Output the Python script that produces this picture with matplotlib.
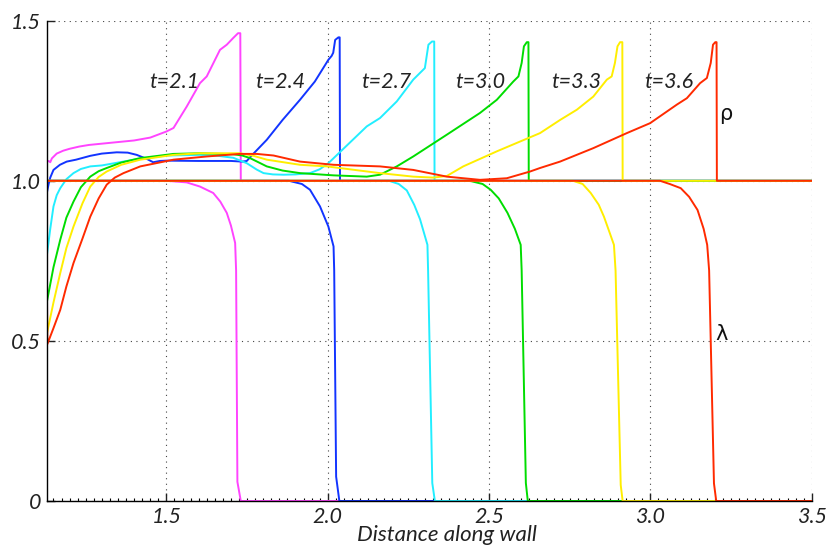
import numpy as np
import matplotlib
matplotlib.use("Agg")
import matplotlib.pyplot as plt
from matplotlib.ticker import MultipleLocator

# times and colours of the six snapshots
times = ["t=2.1", "t=2.4", "t=2.7", "t=3.0", "t=3.3", "t=3.6"]
colors = ["#ff44ff", "#1234ff", "#22eeff", "#00dd00", "#ffee00", "#ff2a00"]

# density rho along the wall
rho_x_21 = [1.129, 1.135, 1.14, 1.145, 1.16, 1.18, 1.20, 1.23, 1.26, 1.30, 1.40, 1.45, 1.50, 1.522, 1.563,
            1.604, 1.625, 1.666, 1.687, 1.707, 1.722, 1.729, 1.7305, 3.5]
rho_y_21 = [1.060, 1.062, 1.058, 1.070, 1.085, 1.094, 1.100, 1.107, 1.112, 1.116, 1.126, 1.135, 1.154,
            1.165, 1.232, 1.305, 1.326, 1.409, 1.425, 1.446, 1.461, 1.461, 1.0, 1.0]

rho_x_24 = [1.129, 1.135, 1.14, 1.150, 1.17, 1.191, 1.22, 1.264, 1.30, 1.346, 1.38, 1.408, 1.44, 1.459,
            1.48, 1.501, 1.60, 1.70, 1.735, 1.749, 1.77, 1.811, 1.86, 1.914, 1.96, 2.002, 2.012,
            2.017, 2.023, 2.033, 2.037, 2.038, 3.5]
rho_y_24 = [0.96, 0.99, 1.01, 1.034, 1.05, 1.06, 1.066, 1.078, 1.085, 1.089, 1.088, 1.081, 1.068,
            1.058, 1.062, 1.063, 1.062, 1.062, 1.06, 1.062, 1.085, 1.128, 1.19, 1.253, 1.31, 1.378,
            1.39, 1.40, 1.44, 1.448, 1.448, 1.0, 1.0]

rho_x_27 = [1.129, 1.14, 1.150, 1.16, 1.171, 1.19, 1.212, 1.235, 1.264, 1.30, 1.40, 1.501, 1.604, 1.66,
            1.707, 1.749, 1.78, 1.801, 1.83, 1.863, 1.90, 1.945, 1.975, 2.002, 2.121, 2.162, 2.214,
            2.265, 2.291, 2.301, 2.312, 2.323, 2.330, 2.331, 3.5]
rho_y_27 = [0.763, 0.85, 0.92, 0.955, 0.977, 1.005, 1.024, 1.037, 1.045, 1.048, 1.066, 1.079, 1.081,
            1.078, 1.072, 1.055, 1.035, 1.024, 1.02, 1.019, 1.02, 1.024, 1.036, 1.055, 1.17, 1.196,
            1.248, 1.316, 1.342, 1.352, 1.425, 1.435, 1.435, 1.0, 1.0]

rho_x_30 = [1.129, 1.15, 1.171, 1.19, 1.212, 1.235, 1.264, 1.29, 1.315, 1.36, 1.419, 1.522, 1.604, 1.707,
            1.735, 1.759, 1.785, 1.811, 1.86, 1.914, 2.018, 2.121, 2.162, 2.214, 2.265, 2.369, 2.472,
            2.524, 2.575, 2.591, 2.601, 2.608, 2.617, 2.622, 2.623, 3.5]
rho_y_30 = [0.619, 0.73, 0.816, 0.885, 0.935, 0.98, 1.013, 1.03, 1.04, 1.057, 1.071, 1.084, 1.086,
            1.083, 1.079, 1.071, 1.058, 1.045, 1.032, 1.024, 1.017, 1.013, 1.019, 1.045, 1.076,
            1.144, 1.212, 1.253, 1.31, 1.326, 1.368, 1.42, 1.433, 1.433, 1.0, 1.0]

rho_x_33 = [1.129, 1.15, 1.171, 1.19, 1.212, 1.24, 1.264, 1.29, 1.315, 1.36, 1.419, 1.522, 1.604, 1.728,
            1.77, 1.811, 1.914, 1.997, 2.162, 2.265, 2.327, 2.369, 2.420, 2.524, 2.658, 2.720,
            2.772, 2.823, 2.865, 2.880, 2.890, 2.898, 2.906, 2.913, 2.914, 3.5]
rho_y_33 = [0.52, 0.62, 0.712, 0.79, 0.857, 0.93, 0.982, 1.012, 1.029, 1.05, 1.066, 1.081, 1.086, 1.086,
            1.078, 1.066, 1.05, 1.045, 1.024, 1.013, 1.01, 1.015, 1.045, 1.092, 1.149, 1.19,
            1.222, 1.263, 1.316, 1.326, 1.368, 1.42, 1.433, 1.433, 1.0, 1.0]

rho_x_36 = [1.129, 1.131, 1.15, 1.171, 1.19, 1.212, 1.24, 1.264, 1.29, 1.315, 1.34, 1.367, 1.419, 1.522,
            1.625, 1.728, 1.78, 1.832, 1.914, 2.018, 2.162, 2.265, 2.369, 2.472, 2.555, 2.627, 2.658,
            2.720, 2.823, 2.927, 2.999, 3.082, 3.113, 3.154, 3.175, 3.187, 3.194, 3.201, 3.205,
            3.206, 3.5]
rho_y_36 = [0.755, 0.49, 0.54, 0.597, 0.67, 0.743, 0.82, 0.888, 0.945, 0.988, 1.01, 1.024, 1.045,
            1.066, 1.076, 1.084, 1.084, 1.079, 1.06, 1.05, 1.045, 1.034, 1.013, 1.003, 1.008, 1.029,
            1.04, 1.06, 1.102, 1.149, 1.18, 1.238, 1.258, 1.305, 1.321, 1.368, 1.425, 1.433, 1.433,
            1.0, 1.0]

# reaction progress lambda along the wall
lam_x_21 = [1.129, 1.50, 1.563, 1.604, 1.645, 1.667, 1.687, 1.70, 1.713, 1.716, 1.720, 1.7305, 3.5]
lam_y_21 = [1.0, 1.0, 0.995, 0.982, 0.962, 0.935, 0.90, 0.86, 0.806, 0.72, 0.06, 0.0, 0.0]

lam_x_24 = [1.129, 1.88, 1.92, 1.945, 1.976, 2.002, 2.018, 2.020, 2.026, 2.036, 3.5]
lam_y_24 = [1.0, 1.0, 0.99, 0.972, 0.92, 0.857, 0.795, 0.72, 0.076, 0.0, 0.0]

lam_x_27 = [1.129, 2.19, 2.22, 2.245, 2.268, 2.286, 2.309, 2.311, 2.324, 2.332, 3.5]
lam_y_27 = [1.0, 1.0, 0.99, 0.97, 0.925, 0.88, 0.80, 0.72, 0.056, 0.0, 0.0]

lam_x_30 = [1.129, 2.44, 2.48, 2.505, 2.53, 2.557, 2.58, 2.598, 2.601, 2.614, 2.62, 3.5]
lam_y_30 = [1.0, 1.0, 0.99, 0.972, 0.945, 0.9, 0.85, 0.80, 0.72, 0.056, 0.0, 0.0]

lam_x_33 = [1.129, 2.76, 2.79, 2.815, 2.84, 2.856, 2.873, 2.887, 2.892, 2.908, 2.914, 3.5]
lam_y_33 = [1.0, 1.0, 0.99, 0.962, 0.925, 0.888, 0.84, 0.80, 0.72, 0.05, 0.0, 0.0]

lam_x_36 = [1.129, 3.03, 3.06, 3.094, 3.12, 3.146, 3.165, 3.176, 3.182, 3.197, 3.204, 3.5]
lam_y_36 = [1.0, 1.0, 0.99, 0.977, 0.95, 0.909, 0.85, 0.80, 0.72, 0.055, 0.0, 0.0]

rho_x = [rho_x_21, rho_x_24, rho_x_27, rho_x_30, rho_x_33, rho_x_36]
rho_y = [rho_y_21, rho_y_24, rho_y_27, rho_y_30, rho_y_33, rho_y_36]
lam_x = [lam_x_21, lam_x_24, lam_x_27, lam_x_30, lam_x_33, lam_x_36]
lam_y = [lam_y_21, lam_y_24, lam_y_27, lam_y_30, lam_y_33, lam_y_36]

# where the time labels sit
label_x = [1.523, 1.854, 2.182, 2.474, 2.769, 3.058]
label_y = 1.31

xticks = [1.5, 2.0, 2.5, 3.0, 3.5]
xtick_labels = ["1.5", "2.0", "2.5", "3.0", "3.5"]
yticks = [0, 0.5, 1.0, 1.5]
ytick_labels = ["0", "0.5", "1.0", "1.5"]

plt.rcParams["font.family"] = ["Lato", "DejaVu Sans"]
plt.rcParams["font.style"] = "italic"

fig = plt.figure(figsize=(8.34, 5.48), dpi=100)
ax = fig.add_axes([0.056, 0.0858, 0.9173, 0.8764])

for i in range(len(times)):
    ax.plot(rho_x[i], rho_y[i], color=colors[i], lw=1.4, solid_joinstyle="round")
    ax.plot(lam_x[i], lam_y[i], color=colors[i], lw=1.4, solid_joinstyle="round")
    ax.text(label_x[i], label_y, times[i], ha="center", va="center", fontsize=15.5, color="#222222")

ax.text(3.234, 1.209, "\u03c1", ha="center", va="center", fontsize=15, color="#111111",
        family="DejaVu Sans", style="normal")
ax.text(3.221, 0.522, "\u03bb", ha="center", va="center", fontsize=15, color="#111111",
        family="DejaVu Sans", style="normal")

ax.set_xlim(1.129, 3.5)
ax.set_ylim(0, 1.5)
ax.set_xticks(xticks)
ax.set_xticklabels(xtick_labels)
ax.set_yticks(yticks)
ax.set_yticklabels(ytick_labels)
ax.xaxis.set_minor_locator(MultipleLocator(0.025))

ax.grid(True, linestyle=(0, (1, 4)), color="#444444", lw=0.8)
ax.set_axisbelow(True)
for s in ["top", "right"]:
    ax.spines[s].set_visible(False)
for s in ["left", "bottom"]:
    ax.spines[s].set_linewidth(1.0)
    ax.spines[s].set_color("black")

ax.tick_params(which="major", direction="in", length=6, width=1, labelsize=15.5, pad=4, colors="#222222")
ax.tick_params(which="minor", direction="in", length=2.5, width=0.8)
ax.tick_params(axis="y", which="minor", left=False)

ax.set_xlabel("Distance along wall", fontsize=16, color="#222222")
ax.xaxis.set_label_coords(0.5226, -0.05)

fig.savefig("out.png", dpi=100)
